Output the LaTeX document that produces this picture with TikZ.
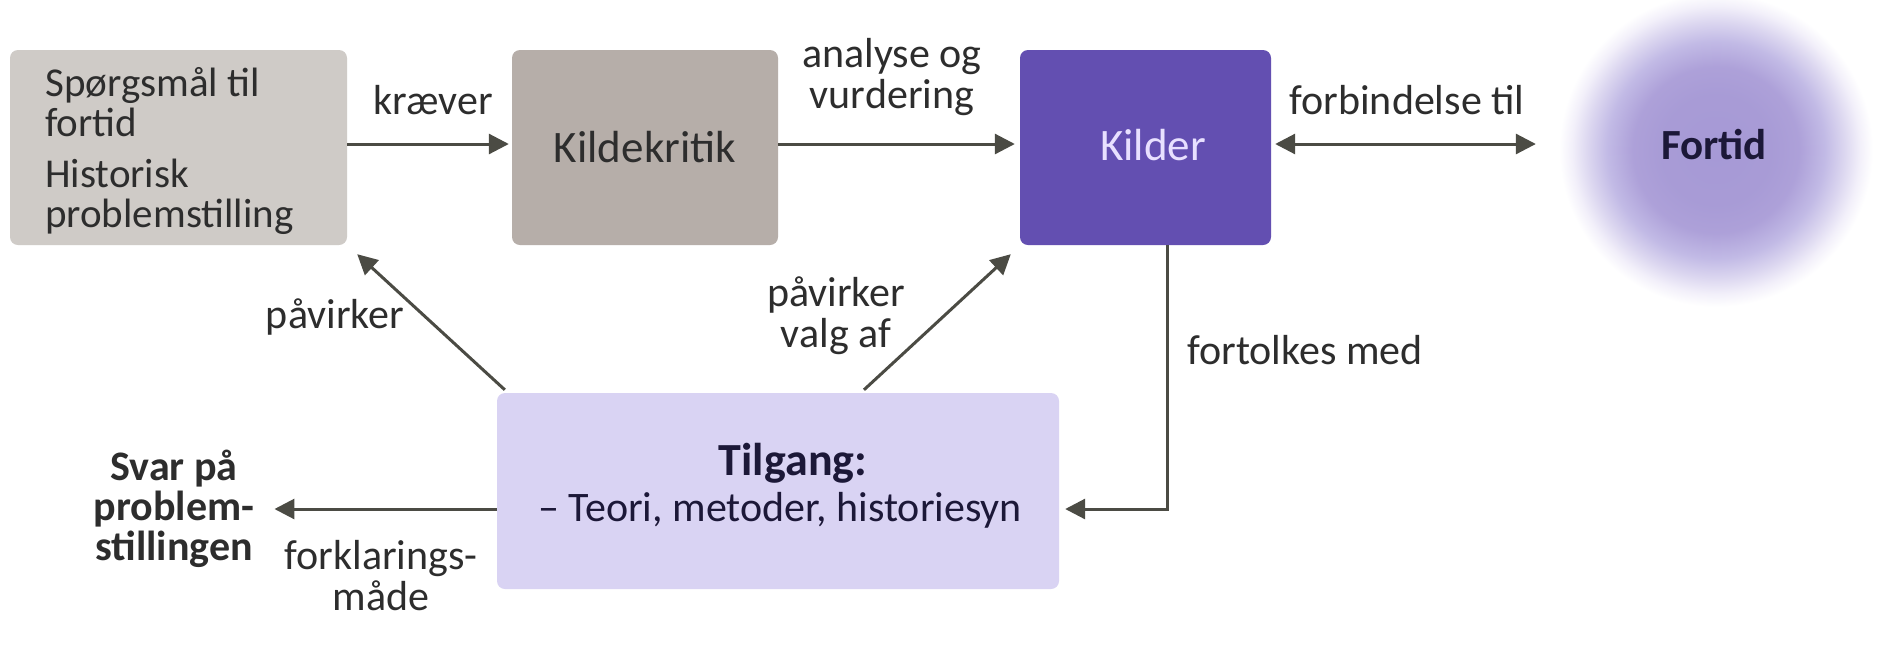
\documentclass[tikz,border=0pt]{standalone}
\usepackage{fontspec}
\setmainfont{Carlito}
\usetikzlibrary{arrows.meta}
\definecolor{boxone}{RGB}{207,203,199}
\definecolor{boxtwo}{RGB}{182,174,169}
\definecolor{kildercol}{RGB}{99,79,177}
\definecolor{tilgangcol}{RGB}{217,211,243}
\definecolor{arrowcol}{RGB}{75,75,68}
\definecolor{txtcol}{RGB}{45,45,45}
\definecolor{kildertxt}{RGB}{232,224,255}
\definecolor{fortidtxt}{RGB}{28,24,56}
\pgfdeclareradialshading{fortidglow}{\pgfpoint{0bp}{0bp}}{rgb(0bp)=(0.65,0.60,0.84); rgb(9bp)=(0.66,0.61,0.84); rgb(13bp)=(0.68,0.63,0.85); rgb(17bp)=(0.76,0.73,0.90); rgb(20bp)=(0.86,0.84,0.94); rgb(22.5bp)=(0.95,0.94,0.98); rgb(24.5bp)=(1,1,1); rgb(50bp)=(1,1,1)}
\tikzset{
  box/.style={rounded corners=8pt, minimum height=195pt, inner sep=0pt, font=\fontsize{45}{45}\selectfont, text=txtcol},
  lbl/.style={font=\fontsize{42}{41}\selectfont, text=txtcol, align=center, inner sep=0pt},
  arr/.style={draw=arrowcol, line width=3pt, -{Triangle[length=20pt,width=20pt]}},
  darr/.style={draw=arrowcol, line width=3pt, {Triangle[length=20pt,width=20pt]}-{Triangle[length=20pt,width=20pt]}}
}
\begin{document}
\begin{tikzpicture}[x=1pt,y=-1pt]
\useasboundingbox (0,0) rectangle (1877,657);
\fill[white] (0,0) rectangle (1877,657);
% boxes
\node[box, fill=boxone, minimum width=337pt] (q) at (178.5,147.5) {};
\node[anchor=west, align=left, inner sep=0pt, font=\fontsize{41}{40}\selectfont, text=txtcol] (qtext) at (45,151)
  {Spørgsmål til\\fortid\\[11pt]Historisk\\problemstilling};
\node[box, fill=boxtwo, minimum width=266pt] (kk) at (645,147.5) {Kildekritik};
\node[box, fill=kildercol, minimum width=251pt] (kilder) at (1145.5,147.5) {};
\node[inner sep=0pt, font=\fontsize{45}{45}\selectfont, text=kildertxt] (kildertext) at (1153,145) {Kilder};
\node[circle, minimum size=320pt, inner sep=0pt, shading=fortidglow] (fortid) at (1716,150) {};
\node[inner sep=0pt, font=\fontsize{43}{43}\selectfont\bfseries, text=fortidtxt] (fortidtxt) at (1714,145) {Fortid};
\node[box, fill=tilgangcol, minimum width=562pt, minimum height=196pt] (tilgang) at (778,491) {};
\node[inner sep=0pt, font=\fontsize{46}{46}\selectfont\bfseries, text=fortidtxt] (tilgtitle) at (793,463) {Tilgang:};
\node[inner sep=0pt, font=\fontsize{42}{42}\selectfont, text=fortidtxt] (tilgtext) at (780,510) {– Teori, metoder, historiesyn};
\node[lbl, font=\fontsize{42}{40}\selectfont\bfseries, inner xsep=20pt] (svar) at (174,509) {Svar på\\problem-\\stillingen};
% labels
\node[lbl] (lkraever) at (433,100) {kræver};
\node[lbl] (lanalyse) at (892,77) {analyse og\\vurdering};
\node[lbl] (lforb) at (1407,100) {forbindelse til};
\node[lbl] (lpav1) at (335,317) {påvirker};
\node[lbl] (lpav2) at (836,316) {påvirker\\valg af};
\node[lbl] (lfort) at (1305,350) {fortolkes med};
\node[lbl] (lforkl) at (381,576) {forklarings-\\måde};
% connectors
\draw[arr, shorten >=3pt] (q.east |- 0,144) -- (kk.west |- 0,144);
\draw[arr, shorten >=5pt] (kk.east |- 0,144) -- (kilder.west |- 0,144);
\draw[darr, shorten <=4pt, shorten >=20pt] (kilder.east |- 0,144) -- (fortid.west |- 0,144);
\draw[arr] ([xshift=8pt,yshift=3pt]tilgang.north west) -- ([xshift=10pt,yshift=-9pt]q.south east);
\draw[arr] ([xshift=86pt,yshift=3pt]tilgang.north) -- ([xshift=-9pt,yshift=-9pt]kilder.south west);
\draw[arr] ([xshift=21.5pt]kilder.south) |- ([xshift=6pt,yshift=-18pt]tilgang.east);
\draw[arr] ([yshift=-18pt]tilgang.west) -- (svar.east);
\end{tikzpicture}
\end{document}
